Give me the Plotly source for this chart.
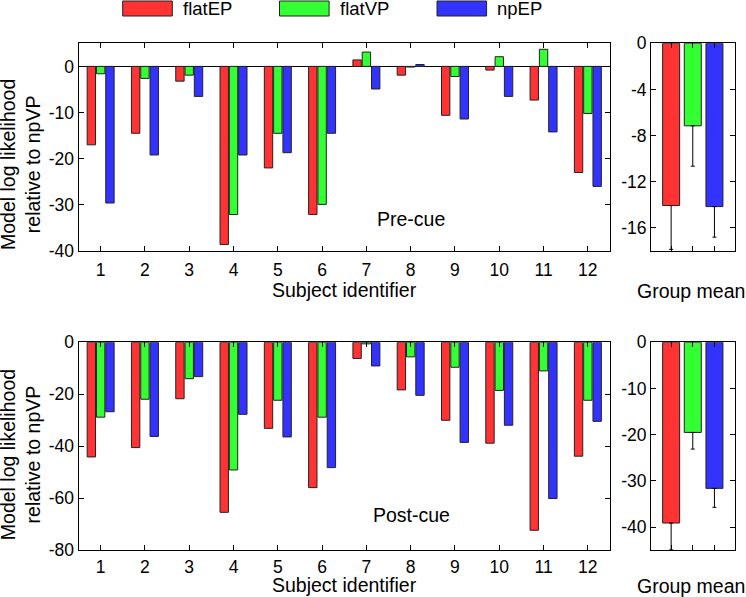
import plotly.graph_objects as go

# ---------------- data ----------------
subjects = list(range(1, 13))
subject_labels = [str(s) for s in subjects]
model_names = ["flatEP", "flatVP", "npEP"]
colors = ["#FF3333", "#33FF33", "#3333FF"]

pre_flatEP = [-17.0, -14.5, -3.2, -38.6, -22.0, -32.1, 1.4, -1.9, -10.6, -0.8, -7.3, -23.0]
pre_flatVP = [-1.6, -2.6, -1.9, -32.1, -14.5, -29.9, 3.1, -0.15, -2.2, 2.1, 3.7, -10.2]
pre_npEP = [-29.6, -19.2, -6.5, -19.2, -18.7, -14.5, -4.9, 0.4, -11.4, -6.5, -14.2, -26.0]

post_flatEP = [-44.1, -40.5, -21.7, -65.4, -33.1, -55.9, -6.2, -18.3, -30.0, -38.8, -72.3, -43.8]
post_flatVP = [-28.8, -21.9, -14.0, -49.1, -22.3, -28.8, -0.6, -5.6, -9.6, -18.5, -11.0, -22.3]
post_npEP = [-26.7, -36.2, -13.2, -27.7, -36.4, -48.2, -9.1, -20.4, -38.5, -31.9, -60.1, -30.4]

group_x = [1, 2, 3]
pre_mean = [-14.06, -7.15, -14.15]
pre_err = [3.8, 3.5, 2.65]
post_mean = [-39.1, -19.5, -31.6]
post_err = [5.8, 3.6, 4.1]

pre_ticks = [0, -10, -20, -30, -40]
post_ticks = [0, -20, -40, -60, -80]
pre_mean_ticks = [0, -4, -8, -12, -16]
post_mean_ticks = [0, -10, -20, -30, -40]

# ---------------- figure ----------------
W, H = 746, 597
FONT = "Arial, Liberation Sans, sans-serif"


def px(x):
    return x / W


def py(y):
    return 1 - y / H


fig = go.Figure()

pre_series = [pre_flatEP, pre_flatVP, pre_npEP]
post_series = [post_flatEP, post_flatVP, post_npEP]

for name, vals, c in zip(model_names, pre_series, colors):
    fig.add_trace(go.Bar(x=subjects, y=vals, name=name, marker=dict(color=c, line=dict(color="#222", width=1)),
                         xaxis="x", yaxis="y", showlegend=False))
for name, vals, c in zip(model_names, post_series, colors):
    fig.add_trace(go.Bar(x=subjects, y=vals, name=name, marker=dict(color=c, line=dict(color="#222", width=1)),
                         xaxis="x3", yaxis="y3", showlegend=False))

fig.add_trace(go.Bar(x=group_x, y=pre_mean, width=0.785,
                     marker=dict(color=colors, line=dict(color="#222", width=1)),
                     error_y=dict(type="data", symmetric=False, array=[0, 0, 0], arrayminus=pre_err,
                                  color="black", thickness=1, width=2),
                     xaxis="x2", yaxis="y2", showlegend=False))
fig.add_trace(go.Bar(x=group_x, y=post_mean, width=0.785,
                     marker=dict(color=colors, line=dict(color="#222", width=1)),
                     error_y=dict(type="data", symmetric=False, array=[0, 0, 0], arrayminus=post_err,
                                  color="black", thickness=1, width=2),
                     xaxis="x4", yaxis="y4", showlegend=False))

axis_common = dict(showline=True, linecolor="black", linewidth=1, mirror="ticks", ticks="inside",
                   ticklen=5, tickcolor="black", tickwidth=1, showgrid=False,
                   tickfont=dict(family=FONT, size=17.5, color="black"))

left_dom = [px(78.5), px(610)]
right_dom = [px(651), px(735)]
top_dom = [py(251), py(43.3)]
bot_dom = [py(550.3), py(342.3)]

fig.update_layout(
    width=W, height=H,
    margin=dict(l=0, r=0, t=0, b=0, autoexpand=False),
    paper_bgcolor="white", plot_bgcolor="white",
    barmode="group", bargap=0.37, bargroupgap=0.1,
    xaxis=dict(domain=left_dom, anchor="y", range=[0.5, 12.5], tickvals=subjects, ticktext=subject_labels,
               zeroline=False, ticklabelstandoff=3, **axis_common),
    yaxis=dict(domain=top_dom, anchor="x", range=[-40, 5], tickvals=pre_ticks,
               ticktext=[str(t) for t in pre_ticks], zeroline=True, zerolinecolor="black",
               zerolinewidth=1, **axis_common),
    xaxis2=dict(domain=right_dom, anchor="y2", range=[0.07, 3.95], tickvals=group_x,
                showticklabels=False, zeroline=False, **axis_common),
    yaxis2=dict(domain=top_dom, anchor="x2", range=[-18, 0], tickvals=pre_mean_ticks,
                ticktext=[str(t) for t in pre_mean_ticks], zeroline=False, **axis_common),
    xaxis3=dict(domain=left_dom, anchor="y3", range=[0.5, 12.5], tickvals=subjects, ticktext=subject_labels,
                zeroline=False, ticklabelstandoff=1, **axis_common),
    yaxis3=dict(domain=bot_dom, anchor="x3", range=[-80, 0], tickvals=post_ticks,
                ticktext=[str(t) for t in post_ticks], zeroline=False, **axis_common),
    xaxis4=dict(domain=right_dom, anchor="y4", range=[0.07, 3.95], tickvals=group_x,
                showticklabels=False, zeroline=False, **axis_common),
    yaxis4=dict(domain=bot_dom, anchor="x4", range=[-45, 0], tickvals=post_mean_ticks,
                ticktext=[str(t) for t in post_mean_ticks], zeroline=False, **axis_common),
)

TF = dict(family=FONT, size=19.5, color="black")
annotations = [
    dict(text="Model log likelihood<br>relative to npVP", x=px(20.5), y=py(164.5), textangle=-90),
    dict(text="Model log likelihood<br>relative to npVP", x=px(20.5), y=py(454.7), textangle=-90),
    dict(text="Subject identifier", x=px(344), y=py(290)),
    dict(text="Subject identifier", x=px(344), y=py(585)),
    dict(text="Group mean", x=px(690.5), y=py(291)),
    dict(text="Group mean", x=px(690.5), y=py(586)),
    dict(text="Pre-cue", x=px(411), y=py(219)),
    dict(text="Post-cue", x=px(411), y=py(515)),
]
for a in annotations:
    fig.add_annotation(xref="paper", yref="paper", showarrow=False, xanchor="center", yanchor="middle",
                       font=TF, **a)

# legend: swatches + labels
legend_x = [122.7, 279.5, 437.0]
for name, c, lx in zip(model_names, colors, legend_x):
    fig.add_shape(type="rect", xref="paper", yref="paper", x0=px(lx), x1=px(lx + 49.6),
                  y0=py(16), y1=py(1), fillcolor=c, line=dict(color="#222", width=1))
    fig.add_annotation(xref="paper", yref="paper", showarrow=False, x=px(lx + 58), y=py(9),
                       xanchor="left", yanchor="middle", text=name,
                       font=dict(family=FONT, size=18.5, color="black"))

fig.write_html("out.html",
               config={"displayModeBar": False},
               post_script="document.body.style.margin='0px';document.body.style.padding='0px';"
                           "document.body.style.overflow='hidden';")
